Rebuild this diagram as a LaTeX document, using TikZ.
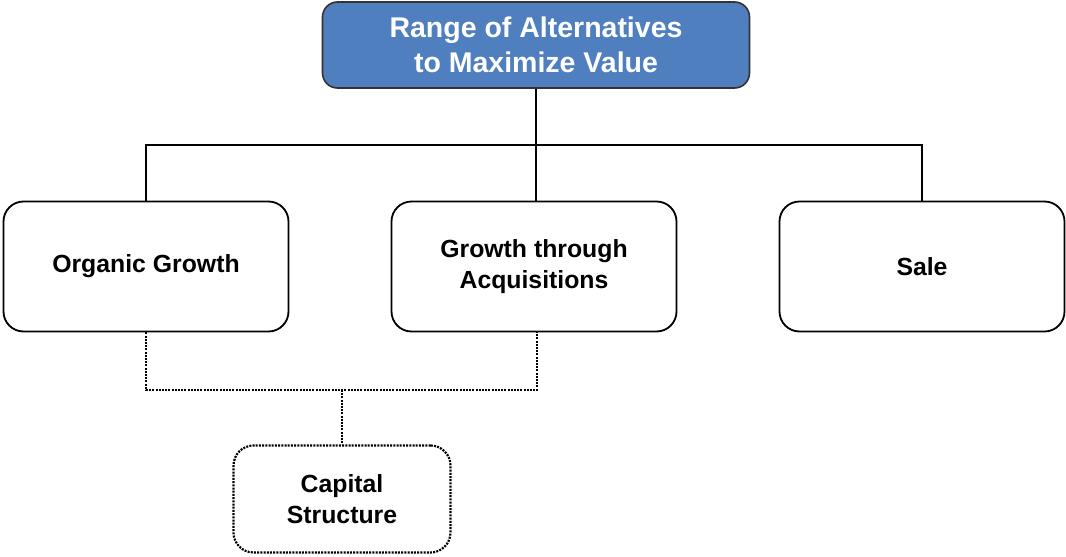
\documentclass[tikz,border=0pt]{standalone}
\usepackage{fontspec}
\setmainfont{Liberation Sans}
\definecolor{topblue}{HTML}{4F7FBE}
\definecolor{edgegray}{HTML}{333333}
\begin{document}
\begin{tikzpicture}[x=1pt,y=-1pt,
  topbox/.style={draw=edgegray,line width=1.6pt,fill=topblue,rounded corners=15pt,minimum width=427pt,minimum height=86pt,align=center,text=white,font=\fontsize{28.5}{35}\selectfont\bfseries,inner sep=0pt},
  midbox/.style={draw=black,line width=1.8pt,fill=white,rounded corners=20pt,minimum width=285pt,minimum height=130pt,align=center,font=\fontsize{24.8}{31}\selectfont\bfseries,inner sep=0pt},
  dotbox/.style={draw=black,line width=2.2pt,dash pattern=on 2pt off 1.2pt,rounded corners=20pt,minimum width=217pt,minimum height=107pt,align=center,font=\fontsize{24.8}{31}\selectfont\bfseries,inner sep=0pt},
  conn/.style={draw=black,line width=1.8pt},
  dotconn/.style={draw=black,line width=2.2pt,dash pattern=on 2pt off 1.2pt}]
\useasboundingbox (0,0) rectangle (1066,557);
\node[topbox] (top) at (536,45) {Range of Alternatives\\to Maximize Value};
\node[midbox] (org) at (146,266.5) {Organic Growth};
\node[midbox] (acq) at (534,266.5) {Growth through\\Acquisitions};
\node[midbox] (sale) at (922,266.5) {Sale};
\node[dotbox] (cap) at (342,499) {Capital\\Structure};
\coordinate (bar) at (536,145);
\coordinate (dbar) at (342,390);
\draw[conn] (top.south) -- (bar);
\draw[conn] (org.north) |- (bar) -| (sale.north);
\draw[conn] (bar) -- (bar |- acq.north);
\draw[dotconn] (org.south) |- (dbar) -| ([xshift=3pt]acq.south);
\draw[dotconn] (dbar) -- (cap.north);
\end{tikzpicture}
\end{document}
